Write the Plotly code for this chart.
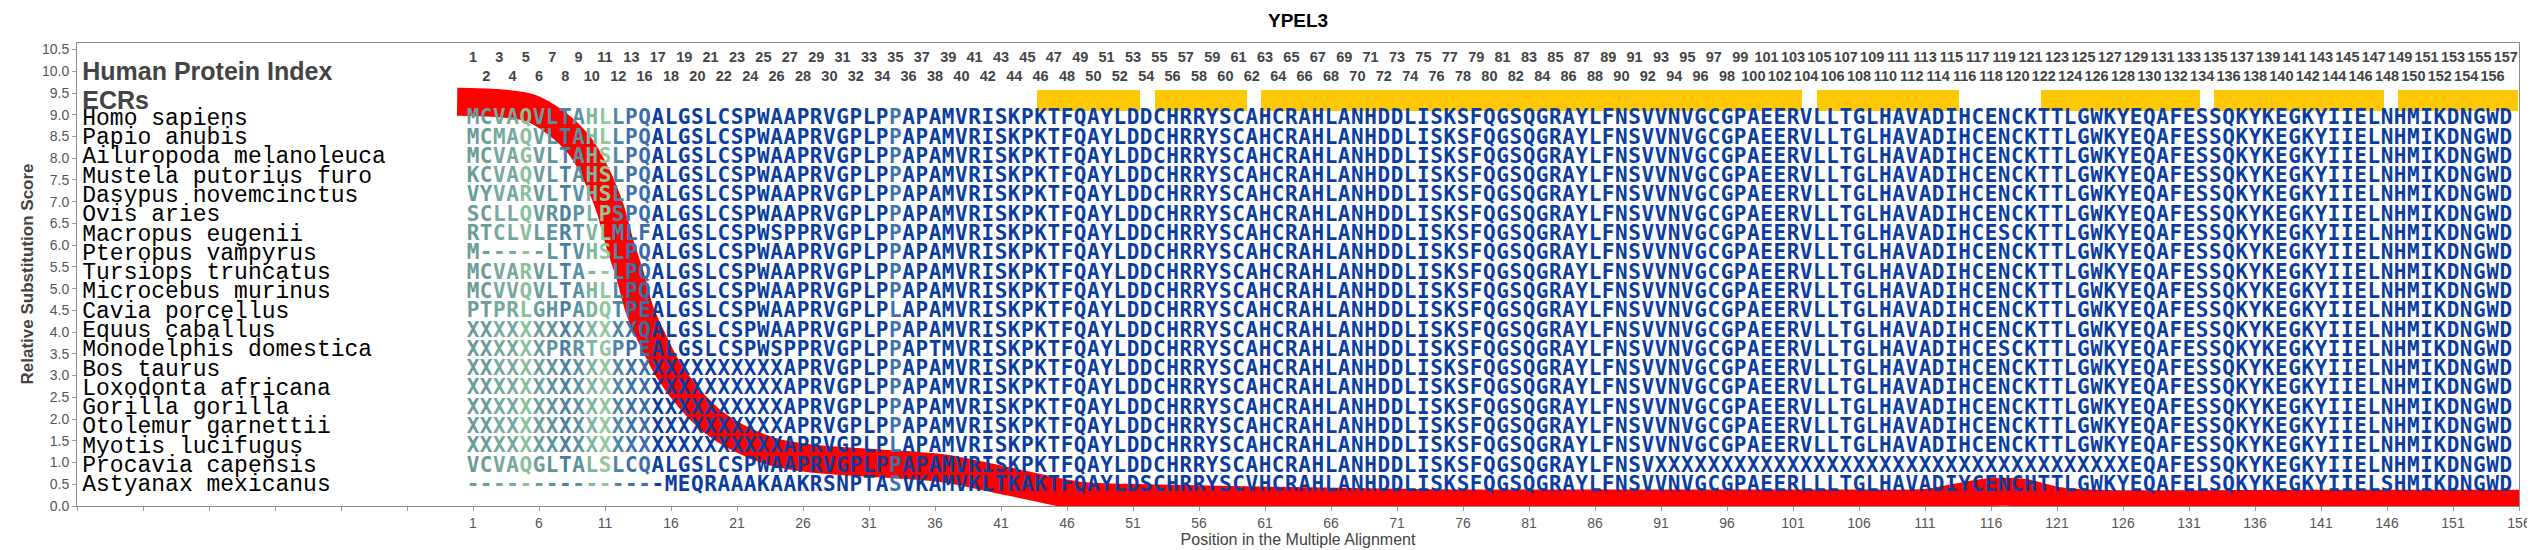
import plotly.graph_objects as go

# ---------------- data ----------------
chart_title = "YPEL3"

species = [
    "Homo sapiens", "Papio anubis", "Ailuropoda melanoleuca", "Mustela putorius furo",
    "Dasypus novemcinctus", "Ovis aries", "Macropus eugenii", "Pteropus vampyrus",
    "Tursiops truncatus", "Microcebus murinus", "Cavia porcellus", "Equus caballus",
    "Monodelphis domestica", "Bos taurus", "Loxodonta africana", "Gorilla gorilla",
    "Otolemur garnettii", "Myotis lucifugus", "Procavia capensis", "Astyanax mexicanus",
]

sequences = [
    "MCVAQVLTAHLLPQALGSLCSPWAAPRVGPLPPAPAMVRISKPKTFQAYLDDCHRRYSCAHCRAHLANHDDLISKSFQGSQGRAYLFNSVVNVGCGPAEERVLLTGLHAVADIHCENCKTTLGWKYEQAFESSQKYKEGKYIIELNHMIKDNGWD",
    "MCMAQVLTAHLLPQALGSLCSPWAAPRVGPLPPAPAMVRISKPKTFQAYLDDCHRRYSCAHCRAHLANHDDLISKSFQGSQGRAYLFNSVVNVGCGPAEERVLLTGLHAVADIHCENCKTTLGWKYEQAFESSQKYKEGKYIIELNHMIKDNGWD",
    "MCVAGVLTAHSLPQALGSLCSPWAAPRVGPLPPAPAMVRISKPKTFQAYLDDCHRRYSCAHCRAHLANHDDLISKSFQGSQGRAYLFNSVVNVGCGPAEERVLLTGLHAVADIHCENCKTTLGWKYEQAFESSQKYKEGKYIIELNHMIKDNGWD",
    "KCVAQVLTAHSLPQALGSLCSPWAAPRVGPLPPAPAMVRISKPKTFQAYLDDCHRRYSCAHCRAHLANHDDLISKSFQGSQGRAYLFNSVVNVGCGPAEERVLLTGLHAVADIHCENCKTTLGWKYEQAFESSQKYKEGKYIIELNHMIKDNGWD",
    "VYVARVLTVHSLPQALGSLCSPWAAPRVGPLPPAPAMVRISKPKTFQAYLDDCHRRYSCAHCRAHLANHDDLISKSFQGSQGRAYLFNSVVNVGCGPAEERVLLTGLHAVADIHCENCKTTLGWKYEQAFESSQKYKEGKYIIELNHMIKDNGWD",
    "SCLLQVRDPLPSPQALGSLCSPWAAPRVGPLPPAPAMVRISKPKTFQAYLDDCHRRYSCAHCRAHLANHDDLISKSFQGSQGRAYLFNSVVNVGCGPAEERVLLTGLHAVADIHCENCKTTLGWKYEQAFESSQKYKEGKYIIELNHMIKDNGWD",
    "RTCLVLERTVLMLFALGSLCSPWSPPRVGPLPPAPAMVRISKPKTFQAYLDDCHRRYSCAHCRAHLANHDDLISKSFQGSQGRAYLFNSVVNVGCGPAEERVLLTGLHAVADIHCESCKTTLGWKYEQAFESSQKYKEGKYIIELNHMIKDNGWD",
    "M-----LTVHSLPQALGSLCSPWAAPRVGPLPPAPAMVRISKPKTFQAYLDDCHRRYSCAHCRAHLANHDDLISKSFQGSQGRAYLFNSVVNVGCGPAEERVLLTGLHAVADIHCENCKTTLGWKYEQAFESSQKYKEGKYIIELNHMIKDNGWD",
    "MCVARVLTA--LPQALGSLCSPWAAPRVGPLPPAPAMVRISKPKTFQAYLDDCHRRYSCAHCRAHLANHDDLISKSFQGSQGRAYLFNSVVNVGCGPAEERVLLTGLHAVADIHCENCKTTLGWKYEQAFESSQKYKEGKYIIELNHMIKDNGWD",
    "MCVVQVLTAHLLPQALGSLCSPWAAPRVGPLPPAPAMVRISKPKTFQAYLDDCHRRYSCAHCRAHLANHDDLISKSFQGSQGRAYLFNSVVNVGCGPAEERVLLTGLHAVADIHCENCKTTLGWKYEQAFESSQKYKEGKYIIELNHMIKDNGWD",
    "PTPRLGHPADQTPEALGSLCSPWAAPRVGPLPLAPAMVRISKPKTFQAYLDDCHRRYSCAHCRAHLANHDDLISKSFQGSQGRAYLFNSVVNVGCGPAEERVLLTGLHAVADIHCENCKTTLGWKYEQAFESSQKYKEGKYIIELNHMIKDNGWD",
    "XXXXXXXXXXXXXQALGSLCSPWAAPRVGPLPPAPAMVRISKPKTFQAYLDDCHRRYSCAHCRAHLANHDDLISKSFQGSQGRAYLFNSVVNVGCGPAEERVLLTGLHAVADIHCENCKTTLGWKYEQAFESSQKYKEGKYIIELNHMIKDNGWD",
    "XXXXXXPRRTGPPEALGSLCSPWSPPRVGPLPPAPTMVRISKPKTFQAYLDDCHRRYSCAHCRAHLANHDDLISKSFQGSQGRAYLFNSVVNVGCGPAEERVLLTGLHAVADIHCESCKTTLGWKYEQAFESSQKYKEGKYIIELNHMIKDNGWD",
    "XXXXXXXXXXXXXXXXXXXXXXXXAPRVGPLPPAPAMVRISKPKTFQAYLDDCHRRYSCAHCRAHLANHDDLISKSFQGSQGRAYLFNSVVNVGCGPAEERVLLTGLHAVADIHCENCKTTLGWKYEQAFESSQKYKEGKYIIELNHMIKDNGWD",
    "XXXXXXXXXXXXXXXXXXXXXXXXAPRVGPLPPAPAMVRISKPKTFQAYLDDCHRRYSCAHCRAHLANHDDLISKSFQGSQGRAYLFNSVVNVGCGPAEERVLLTGLHAVADIHCENCKTTLGWKYEQAFESSQKYKEGKYIIELNHMIKDNGWD",
    "XXXXXXXXXXXXXXXXXXXXXXXXAPRVGPLPPAPAMVRISKPKTFQAYLDDCHRRYSCAHCRAHLANHDDLISKSFQGSQGRAYLFNSVVNVGCGPAEERVLLTGLHAVADIHCENCKTTLGWKYEQAFESSQKYKEGKYIIELNHMIKDNGWD",
    "XXXXXXXXXXXXXXXXXXXXXXXXAPRVGPLPPAPAMVRISKPKTFQAYLDDCHRRYSCAHCRAHLANHDDLISKSFQGSQGRAYLFNSVVNVGCGPAEERVLLTGLHAVADIHCENCKTTLGWKYEQAFESSQKYKEGKYIIELNHMIKDNGWD",
    "XXXXXXXXXXXXXXXXXXXXXXXXAPRVGPLPLAPAMVRISKPKTFQAYLDDCHRRYSCAHCRAHLANHDDLISKSFQGSQGRAYLFNSVVNVGCGPAEERVLLTGLHAVADIHCENCKTTLGWKYEQAFESSQKYKEGKYIIELNHMIKDNGWD",
    "VCVAQGLTALSLCQALGSLCSPWAAPRVGPLPPAPAMVRISKPKTFQAYLDDCHRRYSCAHCRAHLANHDDLISKSFQGSQGRAYLFNSVXXXXXXXXXXXXXXXXXXXXXXXXXXXXXXXXXXXXEQAFESSQKYKEGKYIIELNHMIKDNGWD",
    "---------------MEQRAAAKAAKRSNPTASVKAMVKLTKAKTFQAYLDSCHRRYSCVHCRAHLANHDDLISKSFQGSQGRAYLFNSVVNVGCGPAEERLLLTGLHAVADIYCENCHTTLGWKYEQAFELSQKYKEGKYIIELSHMIKDNGWD",
]

# human protein index shown above each alignment column (columns 1..155)
human_index = list(range(1, 14)) + list(range(16, 158))

# ECR blocks (alignment-position extents)
ecr_start = [43.7, 52.65, 60.7, 102.8, 119.8, 132.9, 146.8]
ecr_end = [51.5, 59.6, 101.7, 113.6, 131.8, 145.8, 155.9]

# relative substitution score curve
score_pos = [-0.2, 2.8, 5.3, 7.3, 9.1, 10.4, 11.4, 12.1, 12.9, 13.6, 14.7, 15.9, 17.4,
             19.2, 21.2, 23.7, 26.7, 31.8, 36.8, 41.8, 46.9, 52, 62, 75, 90, 105, 111,
             113.5, 116, 118.5, 121, 124, 140, 157]
score_val = [9.30, 9.27, 9.16, 8.81, 8.28, 7.59, 6.83, 6.06, 5.30, 4.53, 3.77, 3.08, 2.47,
             1.93, 1.55, 1.25, 1.09, 0.98, 0.86, 0.55, 0.24, 0.18, 0.12, 0.06, 0.06, 0.06, 0.07,
             0.20, 0.32, 0.30, 0.12, 0.05, 0.05, 0.05]

# ---------------- style ----------------
DARK_BLUE = "#0b3d9f"
column_color_overrides = {
    1: "#6a9c9a", 2: "#6a9c9a", 3: "#76a99d", 4: "#76a99d", 5: "#8bbf9b",
    6: "#6a9e9b", 7: "#5e93a0", 8: "#4b80a3", 9: "#5b91a1", 10: "#7cb69e",
    11: "#92c69b", 12: "#4e86a3", 13: "#3d72a8", 14: "#3b6ea9", 33: "#3f74aa",
}
LABEL_GRAY = "#444444"
TICK_GRAY = "#555555"
NARROW = "Liberation Sans Narrow, Arial Narrow, Liberation Sans, sans-serif"
TEXT_SHIFT = 0.09  # compensates the text baseline offset

row_top, row_step = 8.81, 0.4437
row_y = [row_top - i * row_step + TEXT_SHIFT for i in range(len(species))]

fig = go.Figure()

# ECR bars
fig.add_trace(go.Bar(
    x=[(s + e) / 2 for s, e in zip(ecr_start, ecr_end)],
    y=[9.56 - 9.09] * len(ecr_start),
    base=9.09,
    width=[e - s for s, e in zip(ecr_start, ecr_end)],
    marker=dict(color="#FFC800", line=dict(width=0)),
    hoverinfo="skip", showlegend=False,
))

# red score curve
fig.add_trace(go.Scatter(
    x=score_pos, y=score_val, mode="lines",
    line=dict(color="#ff0000", width=28, shape="spline", smoothing=0.8),
    hoverinfo="skip", showlegend=False,
))

# alignment letters
xs, ys, ts, cs = [], [], [], []
for r, seq in enumerate(sequences):
    for c, ch in enumerate(seq, start=1):
        xs.append(c)
        ys.append(row_y[r])
        ts.append(ch)
        cs.append(column_color_overrides.get(c, DARK_BLUE))
fig.add_trace(go.Scatter(
    x=xs, y=ys, text=ts, mode="text", textposition="middle center",
    textfont=dict(family="DejaVu Sans Mono", size=21, color=cs, weight="bold"),
    hoverinfo="skip", showlegend=False,
))

# species names
fig.add_trace(go.Scatter(
    x=[-28.6] * len(species), y=row_y, text=species, mode="text",
    textposition="middle right",
    textfont=dict(family="Liberation Mono, DejaVu Sans Mono, monospace", size=23, color="#000000"),
    hoverinfo="skip", showlegend=False,
))

# header texts
fig.add_trace(go.Scatter(
    x=[-28.6, -28.6], y=[9.89 + 0.06, 9.21 + 0.06], text=["Human Protein Index", "ECRs"], mode="text",
    textposition="middle right",
    textfont=dict(family="Liberation Sans, Arial, sans-serif", size=25, color=LABEL_GRAY, weight="bold"),
    hoverinfo="skip", showlegend=False,
))

# human protein index labels (two staggered rows)
cols = list(range(1, len(human_index) + 1))
fig.add_trace(go.Scatter(
    x=cols, y=[10.17 + 0.12 if h % 2 == 1 else 9.73 + 0.12 for h in human_index],
    text=[str(h) for h in human_index], mode="text", textposition="middle center",
    textfont=dict(family=NARROW, size=14.5, color=LABEL_GRAY, weight="bold"),
    hoverinfo="skip", showlegend=False,
))

tickvals = list(range(-29, 157, 5))
ticktext = [str(v) if v >= 1 else "" for v in tickvals]

fig.update_layout(
    width=2535, height=550,
    margin=dict(l=69, r=17, t=35, b=50),
    paper_bgcolor="white", plot_bgcolor="white",
    showlegend=False, hovermode=False, bargap=0,
    xaxis=dict(range=[-29, 156], tickvals=tickvals, ticktext=ticktext,
               showgrid=False, zeroline=False, showline=True, mirror=True,
               linecolor="#8a8a8a", linewidth=1, ticks="outside", ticklen=4, tickcolor="#9a9a9a",
               tickfont=dict(family=NARROW, size=14, color=TICK_GRAY),
               title=dict(text="Position in the Multiple Alignment", standoff=4,
                          font=dict(family="Liberation Sans, Arial, sans-serif", size=16, color=LABEL_GRAY))),
    yaxis=dict(range=[0, 10.65], dtick=0.5, tick0=0, tickformat=".1f",
               showgrid=False, zeroline=False, showline=True, mirror=True,
               linecolor="#8a8a8a", linewidth=1, ticks="outside", ticklen=4, tickcolor="#9a9a9a",
               tickfont=dict(family=NARROW, size=14, color=TICK_GRAY)),
    annotations=[
        dict(text="<b>" + chart_title + "</b>", x=0.5, xref="paper", xanchor="center",
             y=1 + 23 / 465, yref="paper", yanchor="middle", showarrow=False,
             font=dict(family="Liberation Sans, Arial, sans-serif", size=19, color="#000000")),
        dict(text="<b>Relative Substitution Score</b>", textangle=-90,
             x=0, xref="paper", xanchor="center", xshift=19 - 69,
             y=0.5, yref="paper", yanchor="middle", showarrow=False,
             font=dict(family="Liberation Sans, Arial, sans-serif", size=17, color=LABEL_GRAY)),
    ],
)

fig.write_html("out.html")
